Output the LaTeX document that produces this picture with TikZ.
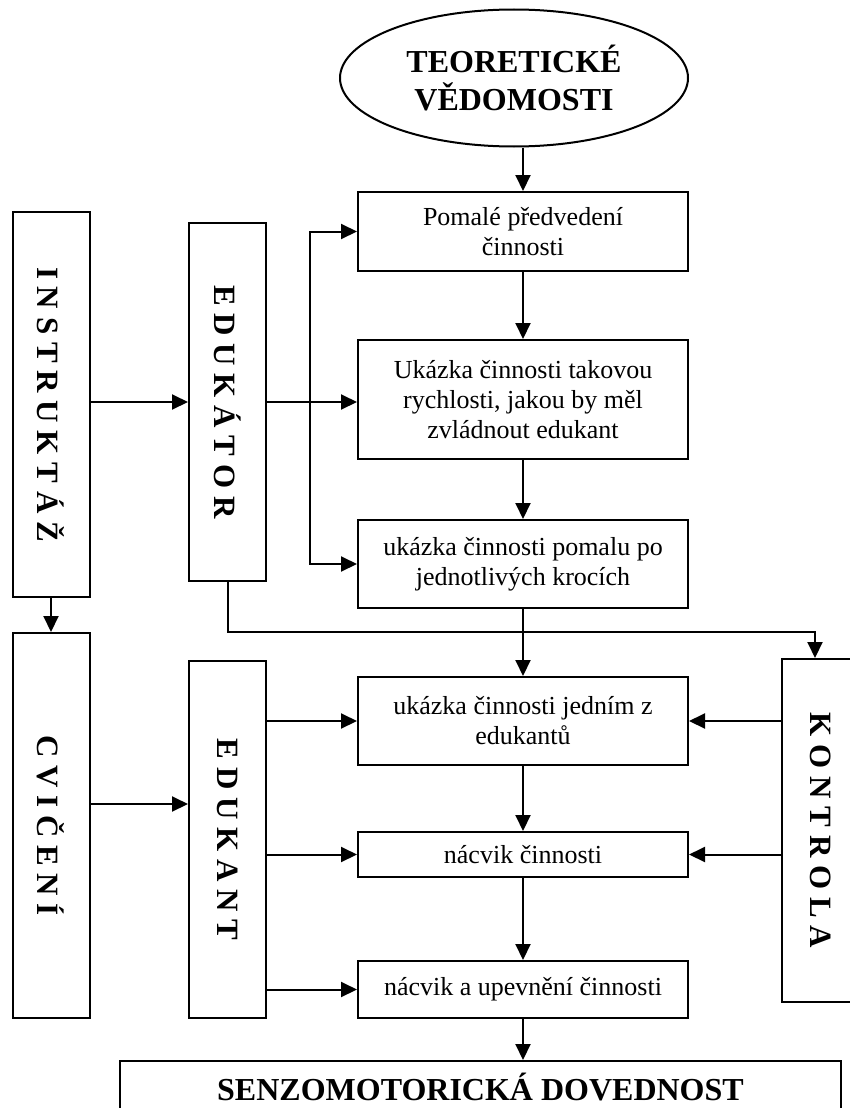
\documentclass[tikz,border=0pt]{standalone}
\usepackage{fontspec}
\setmainfont{Liberation Serif}
\usepackage{graphicx}
\usetikzlibrary{arrows.meta,shapes.geometric}

\begin{document}
\begin{tikzpicture}[x=1pt, y=-1pt, line width=2pt,
  krok/.style={draw, rectangle, minimum width=330pt, align=center, inner sep=0pt,
    font=\fontsize{26}{30}\selectfont},
  sloupec/.style={draw, rectangle, minimum width=77pt, inner sep=0pt,
    font=\fontsize{31}{36}\selectfont\bfseries},
  nadpis/.style={font=\fontsize{32}{38}\selectfont\bfseries, align=center, inner sep=0pt},
  sipka/.style={-{Triangle[length=16pt,width=15pt]}}]
\useasboundingbox (0,0) rectangle (850,1108);

% teorie
\node[draw, ellipse, nadpis, minimum width=348pt, minimum height=137pt] (teorie) at (514,78)
{TEORETICKÉ\\VĚDOMOSTI};

% left columns
\node[sloupec, minimum height=385pt] (instruktaz) at (51,404.5)
{\rotatebox{-90}{I N S T R U K T Á Ž}};
\node[sloupec, minimum height=385pt] (cviceni) at (51,825.5)
{\rotatebox{-90}{C V I Č E N Í}};
\node[sloupec, minimum height=358pt] (edukator) at (227.5,402)
{\rotatebox{-90}{E D U K Á T O R}};
\node[sloupec, minimum height=357pt] (edukant) at (227.5,839.5)
{\rotatebox{-90}{E D U K A N T}};

% kontrola
\node[sloupec, minimum height=343pt] (kontrola) at (820.5,830.5)
{\rotatebox{-90}{K O N T R O L A}};

% steps
\node[krok, minimum height=79pt] (pomale) at (523,231.5)
{Pomalé předvedení\\činnosti};
\node[krok, minimum height=119pt] (ukazka) at (523,399.5)
{Ukázka činnosti takovou\\rychlosti, jakou by měl\\zvládnout edukant};
\node[krok, minimum height=88pt] (pomalu) at (523,564)
{ukázka činnosti pomalu po\\jednotlivých krocích};
\node[krok, minimum height=88pt] (jednim) at (523,721)
{ukázka činnosti jedním z\\edukantů};
\node[krok, minimum height=45pt] (nacvik) at (523,854.5)
{nácvik činnosti};
\node[krok, minimum height=57pt] (upevneni) at (523,989.5)
{nácvik a upevnění činnosti};

% result
\node[draw, nadpis, minimum width=721pt, minimum height=52pt] (senzo) at (480.5,1087)
{SENZOMOTORICKÁ DOVEDNOST};

% main line
\draw[sipka] (pomale.north |- teorie.south) -- (pomale.north);
\draw[sipka] (pomale) -- (ukazka);
\draw[sipka] (ukazka) -- (pomalu);
\draw[sipka] (pomalu) -- (jednim);
\draw[sipka] (jednim) -- (nacvik);
\draw[sipka] (nacvik) -- (upevneni);
\draw[sipka] (upevneni.south) -- (upevneni.south |- senzo.north);

% instruktaz, cviceni
\draw[sipka] (edukator.west -| instruktaz.east) -- (edukator.west);
\draw[sipka] (instruktaz) -- (cviceni);
\coordinate (cvic) at ([yshift=21.5pt]cviceni.east);
\draw[sipka] (cvic) -- (cvic -| edukant.west);

% edukator
\coordinate (rozvod) at (310,402);
\draw (edukator.east) -- (rozvod);
\draw[sipka] (rozvod) -- (rozvod -| ukazka.west);
\draw[sipka] (rozvod) |- (pomale.west);
\draw[sipka] (rozvod) |- (pomalu.west);
\coordinate (spoj) at (815,632);
\draw[sipka] (edukator.south) |- (spoj) -- (spoj |- kontrola.north);

% edukant
\draw[sipka] (jednim.west -| edukant.east) -- (jednim.west);
\draw[sipka] (nacvik.west -| edukant.east) -- (nacvik.west);
\draw[sipka] (upevneni.west -| edukant.east) -- (upevneni.west);

% kontrola
\draw[sipka] (jednim.east -| kontrola.west) -- (jednim.east);
\draw[sipka] (nacvik.east -| kontrola.west) -- (nacvik.east);

\end{tikzpicture}
\end{document}
